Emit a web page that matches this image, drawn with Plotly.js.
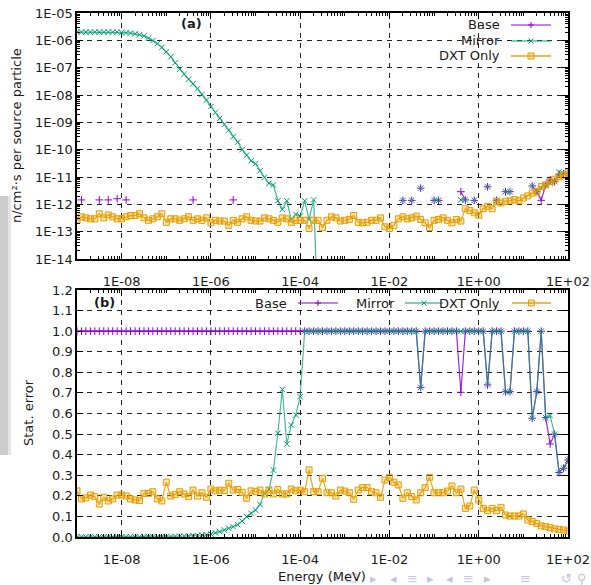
<!DOCTYPE html>
<html>
<head>
<meta charset="utf-8">
<script src="https://cdn.plot.ly/plotly-3.0.1.min.js"></script>
<style>html,body{margin:0;padding:0;background:#fff;}#chart{width:591px;height:585px;}</style>
</head>
<body>
<div id="chart"></div>
<script>
// ---------------- DATA ----------------
const energy = [
 1.00e-9,1.26e-9,1.58e-9,2.00e-9,2.51e-9,3.16e-9,3.98e-9,5.01e-9,6.31e-9,7.94e-9,
 1.00e-8,1.26e-8,1.58e-8,2.00e-8,2.51e-8,3.16e-8,3.98e-8,5.01e-8,6.31e-8,7.94e-8,
 1.00e-7,1.26e-7,1.58e-7,2.00e-7,2.51e-7,3.16e-7,3.98e-7,5.01e-7,6.31e-7,7.94e-7,
 1.00e-6,1.26e-6,1.58e-6,2.00e-6,2.51e-6,3.16e-6,3.98e-6,5.01e-6,6.31e-6,7.94e-6,
 1.00e-5,1.26e-5,1.58e-5,2.00e-5,2.51e-5,3.16e-5,3.98e-5,5.01e-5,6.31e-5,7.94e-5,
 1.00e-4,1.26e-4,1.58e-4,2.00e-4,2.51e-4,3.16e-4,3.98e-4,5.01e-4,6.31e-4,7.94e-4,
 1.00e-3,1.26e-3,1.58e-3,2.00e-3,2.51e-3,3.16e-3,3.98e-3,5.01e-3,6.31e-3,7.94e-3,
 1.00e-2,1.26e-2,1.58e-2,2.00e-2,2.51e-2,3.16e-2,3.98e-2,5.01e-2,6.31e-2,7.94e-2,
 1.00e-1,1.26e-1,1.58e-1,2.00e-1,2.51e-1,3.16e-1,3.98e-1,5.01e-1,6.31e-1,7.94e-1,
 1.00e0,1.26e0,1.58e0,2.00e0,2.51e0,3.16e0,3.98e0,5.01e0,6.31e0,7.94e0,
 1.00e1,1.26e1,1.58e1,2.00e1,2.51e1,3.16e1,3.98e1,5.01e1,6.31e1,7.94e1,
 1.00e2
];
const N = null;
const baseFlux = [
 N,1.45e-12,N,N,N,1.45e-12,N,1.45e-12,N,1.6e-12,
 N,1.45e-12,N,N,N,N,N,N,N,N,
 N,N,N,N,N,N,1.45e-12,N,N,N,
 N,N,N,N,N,1.45e-12,N,N,N,N,
 N,N,N,N,N,N,N,N,N,N,
 N,N,N,N,N,N,N,N,N,N,
 N,N,N,N,N,N,N,N,N,N,
 N,N,N,1.4e-12,N,1.4e-12,N,3.9e-12,N,N,
 1.4e-12,1.4e-12,N,N,N,N,2.9e-12,1.45e-12,N,1.4e-12,
 N,N,4.4e-12,N,1.4e-12,N,2.9e-12,2.9e-12,N,N,
 N,N,4.7e-12,2.9e-12,1.4e-12,5.1e-12,7.8e-12,6.8e-12,1.25e-11,1.3e-11,
 1.35e-11
];
const mirrorFlux = [
 2.0e-6,2.0e-6,2.0e-6,2.0e-6,2.0e-6,2.0e-6,2.0e-6,2.0e-6,2.0e-6,2.0e-6,
 1.95e-6,1.9e-6,1.84e-6,1.74e-6,1.6e-6,1.45e-6,1.2e-6,9.8e-7,7.6e-7,5.5e-7,
 3.8e-7,2.5e-7,1.5e-7,8.7e-8,5.8e-8,3.8e-8,2.6e-8,1.7e-8,1.05e-8,6.5e-9,
 3.8e-9,2.3e-9,1.4e-9,8.5e-10,5.2e-10,3.0e-10,1.9e-10,1.0e-10,6.3e-11,3.9e-11,
 3.1e-11,1.7e-11,9.8e-12,5.9e-12,5.1e-12,1.35e-12,6.5e-13,1.35e-12,2.8e-13,4.3e-13,
 3.7e-13,1.35e-12,2.8e-13,1.45e-12,1e-16,N,N,N,N,N,
 N,N,N,N,N,N,N,N,N,N,
 N,N,N,1.4e-12,N,1.4e-12,N,3.9e-12,N,N,
 1.4e-12,1.4e-12,N,N,N,N,1.45e-12,1.45e-12,N,1.4e-12,
 N,N,4.4e-12,N,1.4e-12,N,2.9e-12,2.9e-12,N,N,
 N,N,4.7e-12,2.9e-12,3.9e-12,5.1e-12,5.9e-12,6.8e-12,1.55e-11,1.3e-11,
 1.35e-11
];
const dxtFlux = [
 2.6e-13,3.5e-13,3.2e-13,2.95e-13,2.95e-13,4.5e-13,3.2e-13,4.1e-13,3.5e-13,2.95e-13,
 2.95e-13,3.5e-13,3.9e-13,3.9e-13,4.5e-13,3.2e-13,2.6e-13,2.95e-13,3.5e-13,4.5e-13,
 2.2e-13,2.95e-13,2.95e-13,2.6e-13,2.95e-13,3.5e-13,2.6e-13,2.95e-13,2.6e-13,3.2e-13,
 2.1e-13,2.6e-13,2.45e-13,2.45e-13,1.7e-13,2.6e-13,2.2e-13,2.95e-13,3.5e-13,2.6e-13,
 2.45e-13,2.45e-13,3.2e-13,2.95e-13,2.6e-13,2.2e-13,3.2e-13,2.95e-13,2.2e-13,2.6e-13,
 2.6e-13,2.6e-13,1.3e-13,2.6e-13,2.6e-13,1.4e-13,2.6e-13,3.5e-13,3.2e-13,2.45e-13,
 2.6e-13,2.8e-13,3.9e-13,2.2e-13,2.1e-13,2.2e-13,2.6e-13,2.6e-13,3.2e-13,1.5e-13,
 1.3e-13,1.7e-13,2.95e-13,3.5e-13,2.95e-13,3.2e-13,3.7e-13,2.8e-13,2.1e-13,1.4e-13,
 2.6e-13,2.8e-13,3.2e-13,2.6e-13,2.1e-13,2.8e-13,2.45e-13,6.9e-13,5.9e-13,4.9e-13,
 4.0e-13,6.9e-13,8.5e-13,6.9e-13,1.29e-12,1.12e-12,1.29e-12,1.35e-12,1.48e-12,1.35e-12,
 1.7e-12,2.04e-12,2.57e-12,2.95e-12,4.47e-12,5.13e-12,6.76e-12,8.32e-12,1.02e-11,1.17e-11,
 1.45e-11
];
const baseErr = [
 1,1,1,1,1,1,1,1,1,1,
 1,1,1,1,1,1,1,1,1,1,
 1,1,1,1,1,1,1,1,1,1,
 1,1,1,1,1,1,1,1,1,1,
 1,1,1,1,1,1,1,1,1,1,
 1,1,1,1,1,1,1,1,1,1,
 1,1,1,1,1,1,1,1,1,1,
 1,1,1,1,1,1,1,0.727,1,1,
 1,1,1,1,1,1,0.703,1,1,1,
 1,1,0.739,1,1,1,0.706,0.706,1,1,
 1,1,0.577,0.706,1,0.58,0.452,0.50,0.313,0.334,
 0.374
];
const mirrorErr = [
 0.001,0.001,0.001,0.001,0.001,0.001,0.001,0.001,0.001,0.001,
 0.001,0.001,0.001,0.001,0.001,0.001,0.001,0.001,0.002,0.002,
 0.002,0.002,0.003,0.003,0.004,0.005,0.006,0.007,0.009,0.011,
 0.015,0.02,0.026,0.034,0.042,0.05,0.06,0.077,0.099,0.115,
 0.131,0.158,0.212,0.232,0.325,0.504,0.717,0.452,0.544,0.593,
 0.682,1,1,1,1,1,1,1,1,1,
 1,1,1,1,1,1,1,1,1,1,
 1,1,1,1,1,1,1,0.727,1,1,
 1,1,1,1,1,1,1,1,1,1,
 1,1,0.739,1,1,1,0.706,0.706,1,1,
 1,1,0.577,0.706,1,0.58,0.59,0.50,0.313,0.334,
 0.374
];
const dxtErr = [
 0.224,0.185,0.190,0.204,0.196,0.160,0.193,0.175,0.185,0.204,
 0.204,0.199,0.185,0.180,0.177,0.212,0.212,0.220,0.185,0.175,
 0.266,0.199,0.207,0.220,0.209,0.196,0.228,0.199,0.215,0.193,
 0.233,0.224,0.228,0.225,0.261,0.228,0.231,0.217,0.188,0.224,
 0.220,0.228,0.209,0.228,0.209,0.231,0.209,0.209,0.233,0.224,
 0.228,0.220,0.326,0.220,0.220,0.285,0.215,0.215,0.199,0.228,
 0.223,0.215,0.183,0.228,0.240,0.240,0.220,0.215,0.193,0.277,
 0.290,0.266,0.253,0.188,0.215,0.196,0.180,0.215,0.240,0.290,
 0.215,0.215,0.215,0.223,0.248,0.215,0.233,0.139,0.151,0.228,
 0.180,0.139,0.128,0.139,0.128,0.144,0.107,0.102,0.102,0.102,
 0.112,0.083,0.075,0.066,0.054,0.050,0.045,0.039,0.037,0.034,
 0.029
];
const seriesNames = ["Base","Mirror","DXT Only"];
const xTickVals = [1e-8,1e-6,1e-4,1e-2,1e0,1e2];
const xTickText = ["1E-08","1E-06","1E-04","1E-02","1E+00","1E+02"];
const yTopTickVals = [1e-14,1e-13,1e-12,1e-11,1e-10,1e-9,1e-8,1e-7,1e-6,1e-5];
const yTopTickText = ["1E-14","1E-13","1E-12","1E-11","1E-10","1E-09","1E-08","1E-07","1E-06","1E-05"];
const yBotTickVals = [0,0.1,0.2,0.3,0.4,0.5,0.6,0.7,0.8,0.9,1.0,1.1,1.2];
const yBotTickText = ["0.0","0.1","0.2","0.3","0.4","0.5","0.6","0.7","0.8","0.9","1.0","1.1","1.2"];

// ---------------- STYLE ----------------
const W = 591, H = 585;
const X0 = 77, X1 = 568, TOP = [13, 259], BOT = [290, 537];
const fx = p => p / W, fy = p => 1 - p / H;
const C_BASE = '#9400D3', C_MIR = '#009E73', C_DXT = '#E69F00';
const FONT = 'DejaVu Sans, Liberation Sans, sans-serif';

function minorLog(d0, d1) {
  const v = [];
  for (let d = d0; d < d1; d++) for (let k = 1; k <= 9; k++) v.push(k * Math.pow(10, d));
  return v;
}

function mk(y, name, color, symbol, xa, ya, lineColor, extra) {
  return Object.assign({
    type: 'scatter', mode: 'lines+markers', x: energy, y: y, name: name,
    xaxis: xa, yaxis: ya, connectgaps: false, cliponaxis: true,
    line: {color: lineColor, width: 1.2},
    marker: {symbol: symbol, size: 5.5, color: color, line: {color: color, width: 1}}
  }, extra || {});
}
const dxtMarker = {symbol: 'square', size: 6, color: 'rgba(230,159,0,0.3)', line: {color: C_DXT, width: 1}};

const traces = [
  mk(baseFlux, seriesNames[0], C_BASE, 'cross-thin-open', 'x', 'y', 'rgba(148,0,211,0.85)'),
  mk(mirrorFlux, seriesNames[1], C_MIR, 'x-thin-open', 'x', 'y', 'rgba(0,158,115,0.75)'),
  mk(dxtFlux, seriesNames[2], C_DXT, 'square', 'x', 'y', 'rgba(230,159,0,0.9)', {marker: dxtMarker}),
  mk(baseErr, seriesNames[0], C_BASE, 'cross-thin-open', 'x2', 'y2', 'rgba(148,0,211,0.85)'),
  mk(mirrorErr, seriesNames[1], C_MIR, 'x-thin-open', 'x2', 'y2', 'rgba(0,158,115,0.7)'),
  mk(dxtErr, seriesNames[2], C_DXT, 'square', 'x2', 'y2', 'rgba(230,159,0,0.9)', {marker: dxtMarker})
];

const gridCommon = {showgrid: true, gridcolor: '#222', gridwidth: 1, griddash: '5px,5px', zeroline: false,
  showline: true, linecolor: '#000', linewidth: 1.6, mirror: 'allticks', ticks: 'inside', ticklen: 6,
  tickcolor: '#000', tickwidth: 1, tickfont: {family: FONT, size: 13, color: '#1a1a1a'}, fixedrange: true};

function xAxis(anchor, dom) {
  return Object.assign({}, gridCommon, {
    type: 'log', range: [-9, 2], domain: dom, anchor: anchor,
    tickmode: 'array', tickvals: xTickVals, ticktext: xTickText, ticklabelstandoff: 10,
    minor: {tickmode: 'array', tickvals: minorLog(-9, 2), ticks: 'inside', ticklen: 3, tickcolor: '#000', showgrid: false}
  });
}

const layout = {
  width: W, height: H, margin: {l: 0, r: 0, t: 0, b: 0},
  paper_bgcolor: '#fff', plot_bgcolor: '#fff', showlegend: false,
  font: {family: FONT, size: 13, color: '#1a1a1a'},
  xaxis: xAxis('y', [fx(X0), fx(X1)]),
  xaxis2: xAxis('y2', [fx(X0), fx(X1)]),
  yaxis: Object.assign({}, gridCommon, {
    type: 'log', range: [-14, -5], domain: [fy(TOP[1]), fy(TOP[0])], anchor: 'x',
    tickmode: 'array', tickvals: yTopTickVals, ticktext: yTopTickText,
    minor: {tickmode: 'array', tickvals: minorLog(-14, -5), ticks: 'inside', ticklen: 3, tickcolor: '#000', showgrid: false}
  }),
  yaxis2: Object.assign({}, gridCommon, {
    range: [0, 1.2], domain: [fy(BOT[1]), fy(BOT[0])], anchor: 'x2',
    tickmode: 'array', tickvals: yBotTickVals, ticktext: yBotTickText
  }),
  shapes: [], annotations: []
};

function txt(t, x, y, opts) {
  layout.annotations.push(Object.assign({text: t, xref: 'paper', yref: 'paper', x: fx(x), y: fy(y),
    showarrow: false, xanchor: 'center', yanchor: 'middle', font: {family: FONT, size: 13, color: '#1a1a1a'}}, opts || {}));
}
function seg(x0, y0, x1, y1, color, w) {
  layout.shapes.push({type: 'line', xref: 'paper', yref: 'paper', x0: fx(x0), y0: fy(y0), x1: fx(x1), y1: fy(y1),
    line: {color: color, width: w}});
}
function legendItem(label, textRight, lx0, lx1, y, kind) {
  txt(label, textRight, y, {xanchor: 'right'});
  const cx = (lx0 + lx1) / 2;
  if (kind === 0) {
    seg(lx0, y, lx1, y, C_BASE, 1.2);
    seg(cx - 3, y, cx + 3, y, C_BASE, 1); seg(cx, y - 3, cx, y + 3, C_BASE, 1);
  } else if (kind === 1) {
    seg(lx0, y, lx1, y, C_MIR, 1.2);
    seg(cx - 2.5, y - 2.5, cx + 2.5, y + 2.5, C_MIR, 1); seg(cx - 2.5, y + 2.5, cx + 2.5, y - 2.5, C_MIR, 1);
  } else {
    seg(lx0, y, lx1, y, 'rgba(230,159,0,0.7)', 2);
    layout.shapes.push({type: 'rect', xref: 'paper', yref: 'paper', x0: fx(cx - 3), x1: fx(cx + 3), y0: fy(y + 3), y1: fy(y - 3),
      fillcolor: 'rgba(230,159,0,0.3)', line: {color: C_DXT, width: 1}});
  }
}

// left slide shadow (background artefact)
layout.shapes.push({type: 'rect', xref: 'paper', yref: 'paper', x0: 0, x1: fx(8), y0: fy(455), y1: fy(196),
  fillcolor: '#cdcdcd', line: {width: 0}, layer: 'below'});
layout.shapes.push({type: 'rect', xref: 'paper', yref: 'paper', x0: fx(8), x1: fx(11), y0: fy(455), y1: fy(196),
  fillcolor: '#e4e4e4', line: {width: 0}, layer: 'below'});

// legends
legendItem(seriesNames[0], 502, 511, 551, 25, 0);
legendItem(seriesNames[1], 502, 511, 551, 41, 1);
legendItem(seriesNames[2], 502, 511, 551, 56, 2);
legendItem(seriesNames[0], 289, 298, 338, 303, 0);
legendItem(seriesNames[1], 397, 405, 443, 303, 1);
legendItem(seriesNames[2], 502, 512, 551, 303, 2);

// panel labels & axis titles
txt('<b>(a)</b>', 191, 24);
txt('<b>(b)</b>', 104, 302);
txt('n/cm²·s per source particle', 16, 136, {textangle: -90});
txt('Stat. error', 28, 413, {textangle: -90});

// beamer navigation symbols (slide background), drawn light behind the axis title
const navC = '#c3c3e3';
layout.shapes.push({type: 'path', xref: 'paper', yref: 'paper', layer: 'below',
  path: 'M' + fx(333) + ',' + fy(578) + ' L' + fx(338) + ',' + fy(575) + ' L' + fx(338) + ',' + fy(581) + ' Z',
  fillcolor: navC, line: {width: 0}});
layout.shapes.push({type: 'rect', xref: 'paper', yref: 'paper', layer: 'below',
  x0: fx(347), x1: fx(357), y0: fy(582), y1: fy(574), fillcolor: 'rgba(0,0,0,0)', line: {color: navC, width: 1}});
[['▸', 373], ['◂', 393], ['≡', 412], ['▸', 430], ['◂', 450], ['≡', 468], ['▸', 487], ['≡', 525], ['↺', 566], ['⚲', 582]]
  .forEach(g => txt(g[0], g[1], 578, {font: {family: FONT, size: 13, color: navC}}));
txt('Energy (MeV)', 322, 576);

Plotly.newPlot('chart', traces, layout, {displayModeBar: false, staticPlot: true});
</script>
</body>
</html>
